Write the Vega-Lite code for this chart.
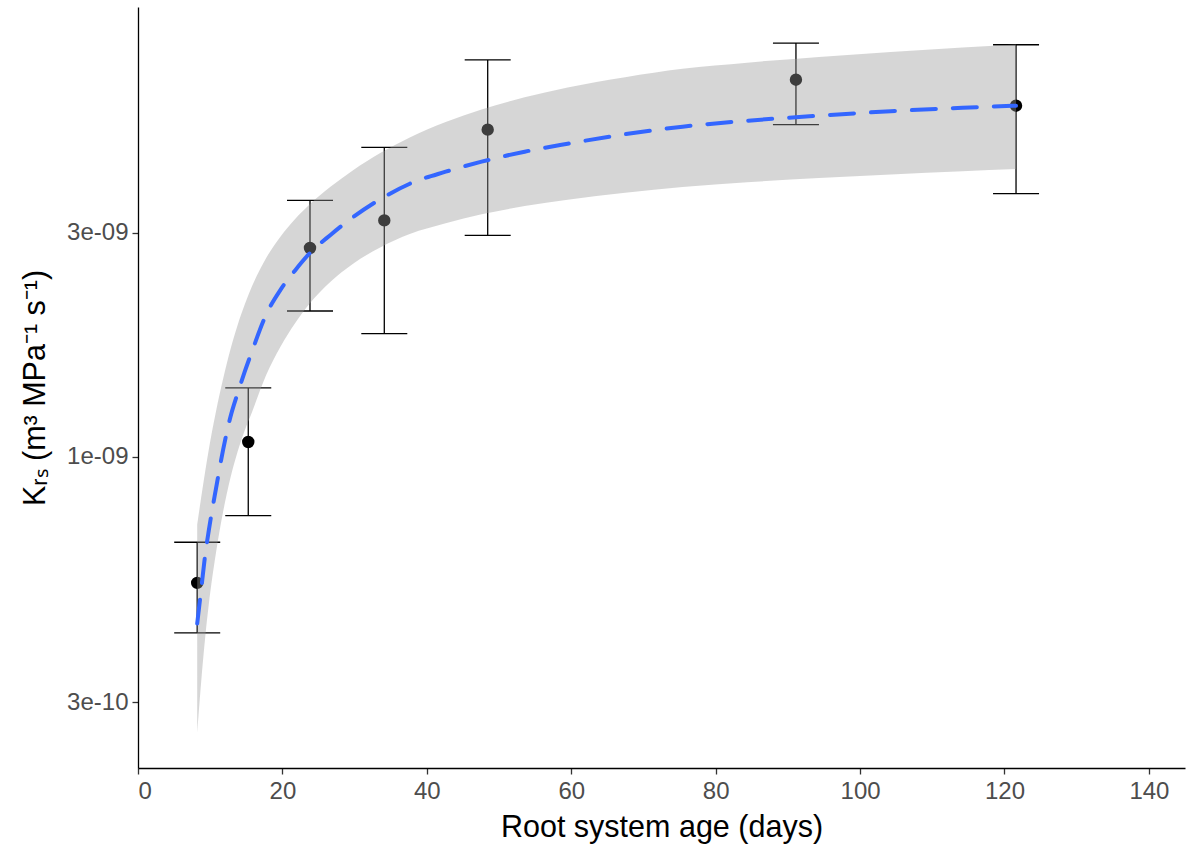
{
  "$schema": "https://vega.github.io/schema/vega-lite/v6.json",
  "width": 1047,
  "height": 761,
  "autosize": {"type": "none"},
  "padding": {"left": 138, "top": 7, "right": 3, "bottom": 79},
  "config": {
    "view": {"stroke": null},
    "font": "Liberation Sans",
    "axis": {
      "grid": false,
      "domainColor": "#000000",
      "domainWidth": 1.3,
      "tickColor": "#333333",
      "tickWidth": 1.3,
      "tickSize": 6,
      "labelFont": "Liberation Sans",
      "labelFontSize": 24,
      "labelColor": "#4D4D4D",
      "labelPadding": 4,
      "titleFont": "Liberation Sans",
      "titleFontSize": 30.5,
      "titleFontWeight": "normal",
      "titleColor": "#000000"
    }
  },
  "datasets": {
    "pts": [
      {"age": 8.2, "k": 5.39e-10, "lo": 4.22e-10, "hi": 6.58e-10},
      {"age": 15.27, "k": 1.076e-9, "lo": 7.50e-10, "hi": 1.403e-9},
      {"age": 23.82, "k": 2.787e-9, "lo": 2.046e-9, "hi": 3.521e-9},
      {"age": 34.11, "k": 3.191e-9, "lo": 1.831e-9, "hi": 4.564e-9},
      {"age": 48.43, "k": 4.980e-9, "lo": 2.965e-9, "hi": 7.010e-9},
      {"age": 91.12, "k": 6.364e-9, "lo": 5.103e-9, "hi": 7.617e-9},
      {"age": 121.6, "k": 5.601e-9, "lo": 3.638e-9, "hi": 7.554e-9}
    ],
    "fit": [
      {"age": 8.2, "fit": 4.415e-10, "lo": 2.587e-10, "hi": 7.175e-10},
      {"age": 8.81, "fit": 5.320e-10, "lo": 3.405e-10, "hi": 8.312e-10},
      {"age": 9.31, "fit": 6.193e-10, "lo": 4.134e-10, "hi": 9.323e-10},
      {"age": 9.80, "fit": 6.967e-10, "lo": 4.846e-10, "hi": 1.036e-9},
      {"age": 10.80, "fit": 8.560e-10, "lo": 6.248e-10, "hi": 1.250e-9},
      {"age": 11.79, "fit": 1.036e-9, "lo": 7.647e-10, "hi": 1.467e-9},
      {"age": 12.78, "fit": 1.213e-9, "lo": 8.995e-10, "hi": 1.690e-9},
      {"age": 13.78, "fit": 1.364e-9, "lo": 1.025e-9, "hi": 1.906e-9},
      {"age": 14.78, "fit": 1.519e-9, "lo": 1.139e-9, "hi": 2.112e-9},
      {"age": 15.77, "fit": 1.676e-9, "lo": 1.244e-9, "hi": 2.306e-9},
      {"age": 17.75, "fit": 2.010e-9, "lo": 1.494e-9, "hi": 2.654e-9},
      {"age": 19.75, "fit": 2.272e-9, "lo": 1.720e-9, "hi": 2.950e-9},
      {"age": 21.73, "fit": 2.494e-9, "lo": 1.925e-9, "hi": 3.210e-9},
      {"age": 23.72, "fit": 2.710e-9, "lo": 2.117e-9, "hi": 3.445e-9},
      {"age": 26.70, "fit": 2.975e-9, "lo": 2.365e-9, "hi": 3.768e-9},
      {"age": 29.69, "fit": 3.234e-9, "lo": 2.574e-9, "hi": 4.072e-9},
      {"age": 33.67, "fit": 3.549e-9, "lo": 2.801e-9, "hi": 4.450e-9},
      {"age": 37.64, "fit": 3.820e-9, "lo": 2.984e-9, "hi": 4.794e-9},
      {"age": 42.61, "fit": 4.052e-9, "lo": 3.146e-9, "hi": 5.170e-9},
      {"age": 47.58, "fit": 4.256e-9, "lo": 3.288e-9, "hi": 5.500e-9},
      {"age": 53.55, "fit": 4.470e-9, "lo": 3.423e-9, "hi": 5.836e-9},
      {"age": 59.50, "fit": 4.648e-9, "lo": 3.532e-9, "hi": 6.127e-9},
      {"age": 67.47, "fit": 4.870e-9, "lo": 3.654e-9, "hi": 6.444e-9},
      {"age": 75.42, "fit": 5.053e-9, "lo": 3.757e-9, "hi": 6.715e-9},
      {"age": 84.36, "fit": 5.203e-9, "lo": 3.847e-9, "hi": 6.919e-9},
      {"age": 94.31, "fit": 5.333e-9, "lo": 3.929e-9, "hi": 7.115e-9},
      {"age": 104.25, "fit": 5.452e-9, "lo": 3.999e-9, "hi": 7.292e-9},
      {"age": 114.19, "fit": 5.546e-9, "lo": 4.062e-9, "hi": 7.455e-9},
      {"age": 121.6, "fit": 5.601e-9, "lo": 4.104e-9, "hi": 7.565e-9}
    ]
  },
  "layer": [
    {
      "data": {"name": "pts"},
      "mark": {"type": "rule", "color": "#000000", "strokeWidth": 1.3},
      "encoding": {
        "x": {
          "field": "age", "type": "quantitative", "title": "Root system age (days)",
          "scale": {"domain": [0, 145], "nice": false, "zero": false},
          "axis": {"values": [0, 20, 40, 60, 80, 100, 120, 140], "titlePadding": 9, "labelPadding": 5}
        },
        "y": {
          "field": "lo", "type": "quantitative", "title": "Kᵣₛ (m³ MPa⁻¹ s⁻¹)",
          "scale": {"type": "log", "domain": [2.174e-10, 9.09e-9], "nice": false},
          "axis": {
            "values": [3e-10, 1e-9, 3e-9],
            "labelExpr": "datum.value < 5e-10 ? '3e-10' : datum.value < 2e-9 ? '1e-09' : '3e-09'",
            "titlePadding": 16
          }
        },
        "y2": {"field": "hi"}
      }
    },
    {
      "data": {"name": "pts"},
      "mark": {"type": "tick", "orient": "horizontal", "size": 46, "thickness": 1.3, "color": "#000000", "opacity": 1},
      "encoding": {
        "x": {"field": "age", "type": "quantitative", "title": "Root system age (days)"},
        "y": {"field": "hi", "type": "quantitative", "title": "Kᵣₛ (m³ MPa⁻¹ s⁻¹)"}
      }
    },
    {
      "data": {"name": "pts"},
      "mark": {"type": "tick", "orient": "horizontal", "size": 46, "thickness": 1.3, "color": "#000000", "opacity": 1},
      "encoding": {
        "x": {"field": "age", "type": "quantitative", "title": "Root system age (days)"},
        "y": {"field": "lo", "type": "quantitative", "title": "Kᵣₛ (m³ MPa⁻¹ s⁻¹)"}
      }
    },
    {
      "data": {"name": "pts"},
      "mark": {"type": "circle", "size": 154, "color": "#000000", "opacity": 1},
      "encoding": {
        "x": {"field": "age", "type": "quantitative", "title": "Root system age (days)"},
        "y": {"field": "k", "type": "quantitative", "title": "Kᵣₛ (m³ MPa⁻¹ s⁻¹)"}
      }
    },
    {
      "data": {"name": "fit"},
      "mark": {"type": "area", "color": "#999999", "opacity": 0.4, "interpolate": "monotone"},
      "encoding": {
        "x": {"field": "age", "type": "quantitative", "title": "Root system age (days)"},
        "y": {"field": "hi", "type": "quantitative", "title": "Kᵣₛ (m³ MPa⁻¹ s⁻¹)"},
        "y2": {"field": "lo"}
      }
    },
    {
      "data": {"name": "fit"},
      "mark": {"type": "line", "color": "#3366FF", "strokeWidth": 4, "strokeDash": [24, 17], "strokeCap": "round", "interpolate": "monotone"},
      "encoding": {
        "x": {"field": "age", "type": "quantitative", "title": "Root system age (days)"},
        "y": {"field": "fit", "type": "quantitative", "title": "Kᵣₛ (m³ MPa⁻¹ s⁻¹)"}
      }
    }
  ]
}
